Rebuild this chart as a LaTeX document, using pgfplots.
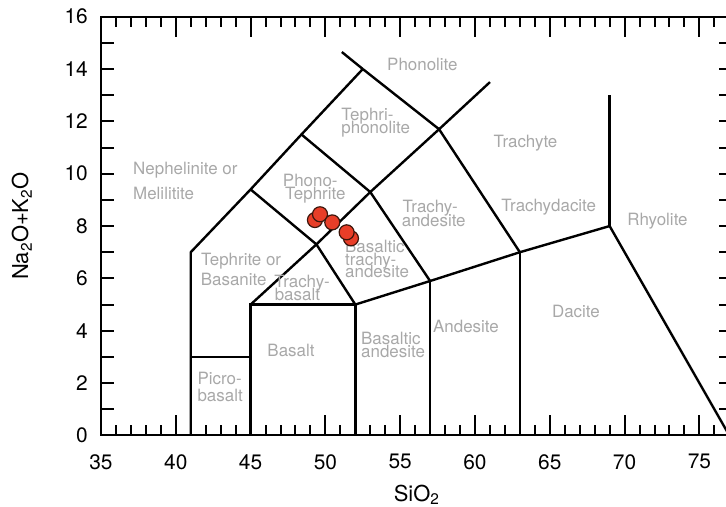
\documentclass[border=0pt]{standalone}
\usepackage{fontspec}
\setmainfont{TeX Gyre Heros}
\usepackage{pgfplots}
\pgfplotsset{compat=1.18}
\definecolor{lblgray}{RGB}{168,168,168}
\definecolor{ptfill}{RGB}{232,62,40}
\definecolor{ptdraw}{RGB}{60,22,12}
\tikzset{lbl/.style={font=\fontsize{17}{17}\selectfont, text=lblgray, inner sep=0pt},
  bnd/.style={black, solid, line width=2.4bp, line join=miter, mark=none}}
\begin{document}
\begin{tikzpicture}
\begin{axis}[
  scale only axis, width=631.3bp, height=418.7bp,
  xmin=35, xmax=77.2, ymin=0, ymax=16,
  xtick={35,40,...,75}, minor xtick={36,...,77},
  ytick={0,2,...,16}, minor ytick={1,3,...,15},
  tick align=inside,
  major tick length=20bp, minor tick length=10bp,
  every major y tick/.append style={/pgfplots/major tick length=13bp},
  every minor y tick/.append style={/pgfplots/minor tick length=13bp},
  tick style={black, line width=2bp},
  axis line style={line width=2bp},
  /pgf/number format/assume math mode=true,
  ticklabel style={font=\fontsize{21}{21}\selectfont, inner sep=0pt},
  xticklabel style={anchor=north, yshift=-18.6bp},
  yticklabel style={anchor=east, xshift=-13bp},
  xlabel={SiO\textsubscript{2}},
  ylabel={Na\textsubscript{2}O+K\textsubscript{2}O},
  xlabel style={font=\fontsize{22}{22}\selectfont, at={(axis description cs:0.5,-0.157)}, anchor=base, inner sep=0pt},
  ylabel style={font=\fontsize{22}{22}\selectfont, at={(axis description cs:-0.1156,0.5)}, anchor=base, inner sep=0pt},
]
% boundaries
\addplot[bnd] coordinates {(41,0) (41,7) (45,9.4) (48.4,11.5) (52.5,14)};
\addplot[bnd] coordinates {(52.5,14) (51.1,14.65)};
\addplot[bnd] coordinates {(41,3) (45,3)};
\addplot[bnd] coordinates {(45,0) (45,5) (52,5) (52,0)};
\addplot[bnd] coordinates {(45,5) (49.4,7.3) (53,9.3) (57.6,11.7) (61,13.5)};
\addplot[bnd] coordinates {(45,9.4) (49.4,7.3) (52,5)};
\addplot[bnd] coordinates {(48.4,11.5) (53,9.3) (57,5.9)};
\addplot[bnd] coordinates {(52.5,14) (57.6,11.7) (63,7)};
\addplot[bnd] coordinates {(52,5) (57,5.9) (63,7) (69,8) (77,0)};
\addplot[bnd] coordinates {(57,0) (57,5.9)};
\addplot[bnd] coordinates {(63,0) (63,7)};
\addplot[bnd] coordinates {(69,8) (69,13)};
% samples
\addplot[only marks, mark=*, mark size=7.5bp, line width=1.2bp,
  mark options={fill=ptfill, draw=ptdraw}] coordinates {
  (49.30,8.23) (49.64,8.45) (50.46,8.14) (51.71,7.53) (51.42,7.76)};
% labels
\node[lbl, anchor=base west] at (axis cs:54.12,13.96) {Phonolite};
\node[lbl, anchor=base west] at (axis cs:51.06,12.03) {Tephri-};
\node[lbl, anchor=base west] at (axis cs:51.06,11.52) {phonolite};
\node[lbl, anchor=base] at (axis cs:63.38,10.99) {Trachyte};
\node[lbl, anchor=base west] at (axis cs:37.14,9.977) {Nephelinite or};
\node[lbl, anchor=base west] at (axis cs:37.14,9.033) {Melilitite};
\node[lbl, anchor=base west] at (axis cs:47.15,9.50) {Phono-};
\node[lbl, anchor=base west] at (axis cs:47.30,9.00) {Tephrite};
\node[lbl, anchor=base west] at (axis cs:55.15,8.50) {Trachy-};
\node[lbl, anchor=base west] at (axis cs:55.10,7.98) {andesite};
\node[lbl, anchor=base] at (axis cs:64.93,8.54) {Trachydacite};
\node[lbl, anchor=base] at (axis cs:72.20,8.04) {Rhyolite};
\node[lbl, anchor=base west] at (axis cs:41.68,6.49) {Tephrite or};
\node[lbl, anchor=base west] at (axis cs:41.66,5.74) {Basanite};
\node[lbl, anchor=base] at (axis cs:48.44,5.67) {Trachy-};
\node[lbl, anchor=base] at (axis cs:48.13,5.17) {basalt};
\node[lbl, anchor=base west] at (axis cs:51.31,6.98) {Basaltic};
\node[lbl, anchor=base west] at (axis cs:51.31,6.51) {trachy-};
\node[lbl, anchor=base west] at (axis cs:51.31,6.02) {andesite};
\node[lbl, anchor=base] at (axis cs:59.40,3.95) {Andesite};
\node[lbl, anchor=base] at (axis cs:66.75,4.49) {Dacite};
\node[lbl, anchor=base west] at (axis cs:52.38,3.49) {Basaltic};
\node[lbl, anchor=base west] at (axis cs:52.38,2.99) {andesite};
\node[lbl, anchor=base] at (axis cs:47.70,3.00) {Basalt};
\node[lbl, anchor=base west] at (axis cs:41.44,1.96) {Picro-};
\node[lbl, anchor=base west] at (axis cs:41.44,1.29) {basalt};
\end{axis}
\pgfresetboundingbox
\path[use as bounding box] (-101bp,-71.6bp) rectangle (625bp,435.4bp);
\end{tikzpicture}
\end{document}
